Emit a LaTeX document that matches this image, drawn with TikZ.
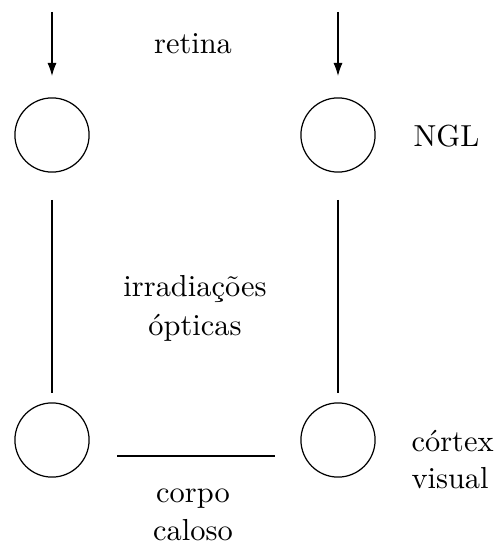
\documentclass[tikz,border=0pt]{standalone}
\usetikzlibrary{arrows.meta}
\begin{document}
\begin{tikzpicture}[x=0.329pt,y=-0.329pt,
  cell/.style={draw,circle,minimum size=24.4pt,inner sep=0pt,line width=0.4pt},
  lbl/.style={anchor=base,inner sep=0pt},
  lbll/.style={anchor=base west,inner sep=0pt},
  ln/.style={line width=0.4pt},
  arr/.style={line width=0.4pt,-{Latex[length=4.3pt,width=3pt]}}]
\useasboundingbox (0,0) rectangle (498,545);
\node[cell] (tl) at (52,135) {};
\node[cell] (tr) at (338,135) {};
\node[cell] (bl) at (52,440) {};
\node[cell] (br) at (338,440) {};
\coordinate (atl) at (52,12);
\coordinate (atr) at (338,12);
\coordinate (etl) at (52,76);
\coordinate (etr) at (338,76);
\draw[arr] (atl) -- (etl);
\draw[arr] (atr) -- (etr);
\coordinate (l1) at (52,200); \coordinate (l2) at (52,393);
\coordinate (r1) at (338,200); \coordinate (r2) at (338,393);
\draw[ln] (l1) -- (l2);
\draw[ln] (r1) -- (r2);
\coordinate (h1) at (117,456); \coordinate (h2) at (275,456);
\draw[ln] (h1) -- (h2);
\node[lbl] (retina) at (193,54) {retina};
\node[lbll] (ngl) at (413,147) {NGL};
\node[lbl] (irr) at (195,296) {irradiações};
\node[lbl] (opt) at (195,335) {ópticas};
\node[lbll] (cor) at (411,451) {córtex};
\node[lbll] (vis) at (411,488) {visual};
\node[lbl] (corpo) at (193,502) {corpo};
\node[lbl] (cal) at (193,540) {caloso};
\end{tikzpicture}
\end{document}
